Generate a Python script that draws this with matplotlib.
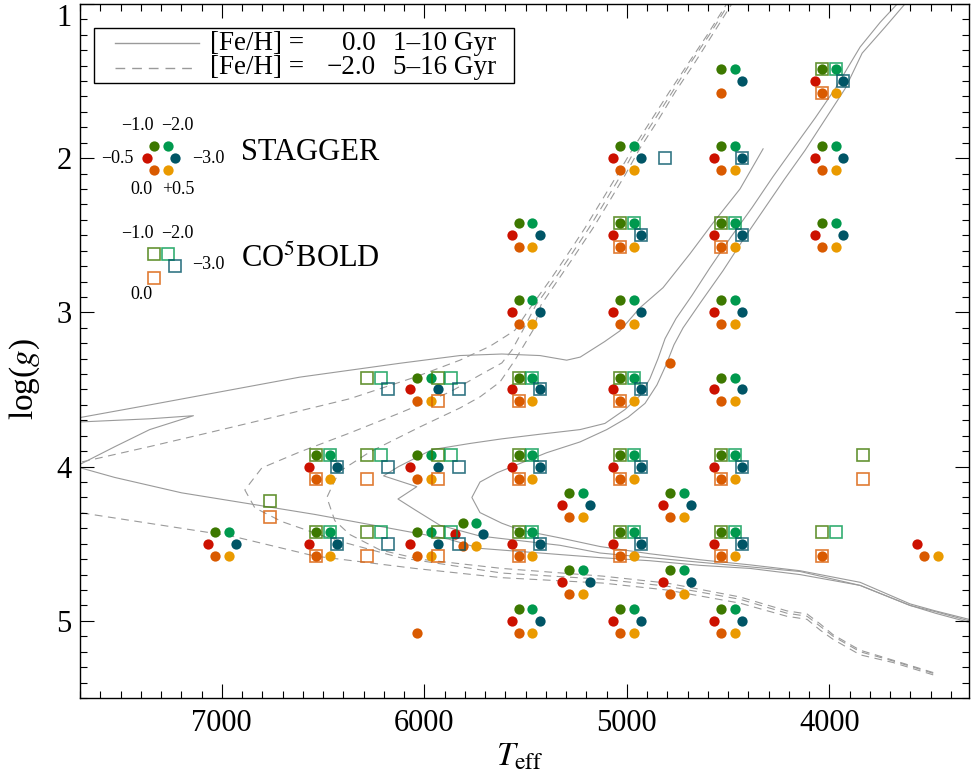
import matplotlib
matplotlib.use("Agg")
import matplotlib.pyplot as plt
from matplotlib.ticker import MultipleLocator
from matplotlib.transforms import ScaledTranslation
from matplotlib.patches import Rectangle

plt.rcParams['font.family'] = ['Liberation Serif', 'DejaVu Serif']
plt.rcParams['mathtext.fontset'] = 'stix'

""" Data """

# metallicities and their colours
feh_values = [0.5, 0.0, -0.5, -1.0, -2.0, -3.0]
feh_colors = ['#EA9A00', '#D95A00', '#CC1100', '#3D7800', '#00994E', '#005566']

ALL6 = [0.5, 0.0, -0.5, -1.0, -2.0, -3.0]
ALL4 = [0.0, -1.0, -2.0, -3.0]

# STAGGER grid points
stagger_teff = [4000, 4500,
                5000, 4500, 4000,
                5500, 5000, 4500, 4000,
                5500, 5000, 4500,
                6000, 5500, 5000, 4500,
                4750,
                6500, 6000, 5500, 5000, 4500,
                5250, 4750,
                7000, 6500, 6000, 5777, 5500, 5000, 4500, 4000, 3500,
                5250, 4750,
                6000, 5500, 5000, 4500]
stagger_logg = [1.5, 1.5,
                2.0, 2.0, 2.0,
                2.5, 2.5, 2.5, 2.5,
                3.0, 3.0, 3.0,
                3.5, 3.5, 3.5, 3.5,
                3.25,
                4.0, 4.0, 4.0, 4.0, 4.0,
                4.25, 4.25,
                4.5, 4.5, 4.5, 4.44, 4.5, 4.5, 4.5, 4.5, 4.5,
                4.75, 4.75,
                5.0, 5.0, 5.0, 5.0]
stagger_feh = [ALL6, [0.0, -1.0, -2.0, -3.0],
               ALL6, ALL6, ALL6,
               ALL6, ALL6, ALL6, ALL6,
               ALL6, ALL6, ALL6,
               ALL6, ALL6, ALL6, ALL6,
               [0.0],
               ALL6, ALL6, ALL6, ALL6, ALL6,
               ALL6, ALL6,
               ALL6, ALL6, ALL6, ALL6, ALL6, ALL6, ALL6, [0.0], [0.5, 0.0, -0.5],
               ALL6, ALL6,
               [0.0], ALL6, ALL6, ALL6]

# CO5BOLD grid points
cobold_teff = [4000, 4880, 4500, 5000, 4500,
               6250, 5900, 5500, 5000,
               6500, 6250, 5900, 5500, 5000, 4500, 3800,
               6730, 6730,
               6500, 6250, 5900, 5500, 5000, 4500, 4000]
cobold_logg = [1.5, 2.0, 2.0, 2.5, 2.5,
               3.5, 3.5, 3.5, 3.5,
               4.0, 4.0, 4.0, 4.0, 4.0, 4.0, 4.0,
               4.3, 4.25,
               4.5, 4.5, 4.5, 4.5, 4.5, 4.5, 4.5]
cobold_feh = [ALL4, [-3.0], [-3.0], ALL4, ALL4,
              [-1.0, -2.0, -3.0], ALL4, ALL4, ALL4,
              ALL4, ALL4, ALL4, ALL4, ALL4, ALL4, [0.0, -1.0],
              [-1.0], [0.0],
              ALL4, ALL4, ALL4, ALL4, ALL4, ALL4, [0.0, -1.0, -2.0]]

# isochrones, [Fe/H] = 0.0 (1, ~4, 10 Gyr)
iso_sol1_teff = [3280, 3477, 3601, 3848, 4144, 4391, 4638, 4886, 5132, 5330, 5528, 5725,
                 5880, 6209, 6540, 6868, 7198, 7529, 7692, 7790, 7692, 7527, 7356, 7140,
                 7356, 7692, 7800, 7692, 7356, 7109, 6615, 6120, 5824, 5617, 5429, 5297,
                 5230, 5182, 5110, 5034, 4935, 4821, 4688, 4574, 4441, 4327]
iso_sol1_logg = [5.02, 4.95, 4.90, 4.77, 4.70, 4.66, 4.64, 4.61, 4.59, 4.57, 4.55, 4.53,
                 4.47, 4.39, 4.31, 4.24, 4.17, 4.07, 4.01, 4.00, 3.98, 3.87, 3.76, 3.67,
                 3.69, 3.71, 3.70, 3.68, 3.60, 3.54, 3.42, 3.33, 3.28, 3.27, 3.28, 3.31,
                 3.29, 3.25, 3.19, 3.12, 2.97, 2.84, 2.62, 2.42, 2.20, 1.94]

iso_sol2_teff = [3280, 3477, 3601, 3848, 4144, 4391, 4638, 4886, 5132, 5330, 5528, 5725,
                 5923, 6046, 6130, 6037, 6201, 6127, 5962, 5775, 5617, 5429, 5231, 5108,
                 5009, 4935, 4886, 4846, 4811, 4757, 4678, 4589, 4485, 4381, 4278, 4169,
                 4070, 3971, 3848, 3749, 3650, 3601]
iso_sol2_logg = [5.01, 4.94, 4.90, 4.77, 4.68, 4.65, 4.62, 4.59, 4.56, 4.51, 4.48, 4.45,
                 4.38, 4.28, 4.21, 4.13, 4.06, 4.00, 3.89, 3.85, 3.82, 3.79, 3.76, 3.72,
                 3.63, 3.54, 3.43, 3.30, 3.17, 3.04, 2.89, 2.71, 2.51, 2.32, 2.12, 1.92,
                 1.74, 1.55, 1.28, 1.12, 0.98, 0.91]

iso_sol3_teff = [3280, 3477, 3601, 3848, 4144, 4391, 4638, 4886, 5132, 5330, 5528, 5617,
                 5725, 5765, 5725, 5641, 5396, 5231, 5099, 4994, 4910, 4851, 4806, 4767,
                 4722, 4638, 4525, 4421, 4322, 4223, 4120, 4021, 3922, 3838, 3724, 3626,
                 3591]
iso_sol3_logg = [5.00, 4.935, 4.89, 4.75, 4.675, 4.637, 4.604, 4.565, 4.518, 4.462, 4.41, 4.367,
                 4.298, 4.20, 4.10, 4.04, 3.91, 3.84, 3.76, 3.68, 3.59, 3.47, 3.34, 3.21,
                 3.10, 2.94, 2.73, 2.52, 2.33, 2.14, 1.95, 1.75, 1.55, 1.32, 1.15, 1.00,
                 0.94]

# isochrones, [Fe/H] = -2.0 (5 ... 16 Gyr)
iso_mp1_teff = [3487, 3685, 3848, 3981, 4045, 4110, 4210, 4441, 4801, 5118, 5617, 6046,
                6540, 6951, 7692, 7900, 7692, 7356, 7064, 6713, 6368, 6046, 5824, 5676,
                5592, 5552, 5468, 5379, 5295, 5207, 5123, 5048, 4969, 4880, 4791, 4693,
                4604, 4505, 4475]
iso_mp1_logg = [5.35, 5.27, 5.22, 5.12, 5.06, 4.99, 4.97, 4.885, 4.80, 4.755, 4.72, 4.66,
                4.58, 4.45, 4.30, 4.15, 3.97, 3.87, 3.78, 3.67, 3.56, 3.42, 3.31, 3.22,
                3.15, 3.115, 2.953, 2.791, 2.629, 2.454, 2.273, 2.111, 1.936, 1.755, 1.573, 1.379,
                1.204, 0.997, 0.925]

iso_mp2_teff = [3487, 3685, 3848, 3981, 4045, 4110, 4210, 4441, 4801, 5118, 5617, 6120,
                6442, 6704, 6837, 6886, 6802, 6615, 6368, 6120, 5873, 5725, 5617, 5567,
                5513, 5449, 5360, 5276, 5187, 5103, 5029, 4954, 4865, 4776, 4683, 4594,
                4495, 4466]
iso_mp2_logg = [5.34, 5.26, 5.20, 5.10, 5.035, 4.97, 4.95, 4.86, 4.775, 4.73, 4.69, 4.59,
                4.475, 4.356, 4.267, 4.151, 4.008, 3.905, 3.782, 3.652, 3.516, 3.406, 3.328, 3.244,
                3.115, 2.953, 2.791, 2.629, 2.454, 2.273, 2.111, 1.936, 1.755, 1.573, 1.379, 1.204,
                0.997, 0.925]

iso_mp3_teff = [3487, 3685, 3848, 3981, 4045, 4110, 4210, 4441, 4801, 5118, 5617, 6022,
                6219, 6368, 6442, 6481, 6442, 6417, 6269, 6022, 5824, 5725, 5626, 5552,
                5463, 5424, 5340, 5256, 5167, 5083, 5009, 4935, 4846, 4762, 4663, 4579,
                4480, 4451]
iso_mp3_logg = [5.335, 5.255, 5.19, 5.09, 5.02, 4.955, 4.935, 4.845, 4.755, 4.71, 4.66, 4.60,
                4.54, 4.44, 4.35, 4.20, 4.09, 4.03, 3.905, 3.743, 3.62, 3.548, 3.451, 3.309,
                3.115, 2.953, 2.791, 2.629, 2.454, 2.273, 2.111, 1.936, 1.755, 1.573, 1.379, 1.204,
                0.997, 0.925]

""" Plot """

iso_color = '#9a9a9a'
# marker position around a grid point for each [Fe/H], in points
hex_offset = {0.5: (5.0, -8.6), 0.0: (-5.0, -8.6), -0.5: (-10.1, 0.0),
              -1.0: (-5.0, 8.6), -2.0: (5.0, 8.6), -3.0: (10.1, 0.0)}

fig = plt.figure(figsize=(9.71, 7.82), dpi=100)
ax = fig.add_axes([0.0824, 0.1074, 0.9156, 0.8877])


def shifted(dx, dy):
    return ax.transData + ScaledTranslation(dx / 72, dy / 72, fig.dpi_scale_trans)


def draw_dots(teff, logg, fehs, **kw):
    for m, c in zip(feh_values, feh_colors):
        xs = [t for t, f in zip(teff, fehs) if m in f]
        ys = [g for g, f in zip(logg, fehs) if m in f]
        if xs:
            ax.plot(xs, ys, 'o', ms=7.4, mew=0, color=c, zorder=3,
                    transform=shifted(*hex_offset[m]), **kw)


def draw_squares(teff, logg, fehs, **kw):
    for m, c in zip(feh_values, feh_colors):
        xs = [t for t, f in zip(teff, fehs) if m in f]
        ys = [g for g, f in zip(logg, fehs) if m in f]
        if xs:
            ax.plot(xs, ys, 's', ms=8.9, mew=1.2, mfc='none', mec=c, alpha=0.8,
                    zorder=4, transform=shifted(*hex_offset[m]), **kw)


# isochrones
for t, g in [(iso_sol1_teff, iso_sol1_logg), (iso_sol2_teff, iso_sol2_logg),
             (iso_sol3_teff, iso_sol3_logg)]:
    ax.plot(t, g, color=iso_color, lw=0.8, zorder=1)
for t, g in [(iso_mp1_teff, iso_mp1_logg), (iso_mp2_teff, iso_mp2_logg),
             (iso_mp3_teff, iso_mp3_logg)]:
    ax.plot(t, g, color=iso_color, lw=0.8, ls=(0, (7, 5)), zorder=1)

# model grids
draw_dots(stagger_teff, stagger_logg, stagger_feh)
draw_squares(cobold_teff, cobold_logg, cobold_feh)

# keys for the two grids
key_teff = 7300
draw_dots([key_teff], [2.0], [ALL6])
draw_squares([key_teff], [2.7], [ALL4])
key_fs = 13
for txt, (dx, dy), ha in [('−1.0', (-16.9, 23.8), 'center'), ('−2.0', (11.9, 23.8), 'center'),
                          ('−0.5', (-19.9, 0), 'right'), ('−3.0', (22.1, 0), 'left'),
                          ('0.0', (-13.9, -22.3), 'center'), ('+0.5', (12.1, -22.3), 'center')]:
    ax.text(key_teff, 2.0, txt, fontsize=key_fs, ha=ha, va='center', transform=shifted(dx, dy))
for txt, (dx, dy), ha in [('−1.0', (-16.9, 23.3), 'center'), ('−2.0', (11.9, 23.3), 'center'),
                          ('−3.0', (22.1, 1.2), 'left'), ('0.0', (-13.9, -20.7), 'center')]:
    ax.text(key_teff, 2.7, txt, fontsize=key_fs, ha=ha, va='center', transform=shifted(dx, dy))
ax.text(6903, 2.014, 'STAGGER', fontsize=22, ha='left', va='baseline')
ax.text(6903, 2.705, 'CO$^5$BOLD', fontsize=22, ha='left', va='baseline')

# legend box for the isochrones
ax.add_patch(Rectangle((0.0161, 0.8855), 0.4724, 0.0801, transform=ax.transAxes,
                       fill=False, lw=1.0, ec='black', zorder=5))
ax.plot([0.0397, 0.1335], [0.9431, 0.9431], transform=ax.transAxes, color=iso_color, lw=1.0)
ax.plot([0.0397, 0.1260], [0.9080, 0.9080], transform=ax.transAxes, color=iso_color, lw=1.0,
        ls=(0, (7, 5)))
for y, val, age in [(0.9431, '0.0', '1–10 Gyr'), (0.9080, '−2.0', '5–16 Gyr')]:
    ax.text(0.1466, y, '[Fe/H] =', transform=ax.transAxes, fontsize=19.5, va='center')
    ax.text(0.3322, y, val, transform=ax.transAxes, fontsize=19.5, va='center', ha='right')
    ax.text(0.3517, y, age, transform=ax.transAxes, fontsize=19.5, va='center')

# axes
ax.set_xlim(7700, 3310)
ax.set_ylim(5.5, 1.0)
ax.set_xticks([7000, 6000, 5000, 4000])
ax.set_yticks([1, 2, 3, 4, 5])
ax.xaxis.set_minor_locator(MultipleLocator(100))
ax.yaxis.set_minor_locator(MultipleLocator(0.1))
ax.tick_params(which='both', direction='in', top=True, right=True, width=0.8, labelsize=22)
ax.tick_params(which='major', length=10)
ax.tick_params(which='minor', length=5)
ax.tick_params(axis='x', pad=8)
ax.tick_params(axis='y', pad=6)
ax.get_yticklabels()[0].set_verticalalignment('top')
for s in ax.spines.values():
    s.set_linewidth(1.0)

ax.set_xlabel('$T_{\\rm eff}$', fontsize=24, va='center')
ax.set_ylabel('log($g$)', fontsize=24, va='center')
ax.xaxis.set_label_coords(0.495, -0.085)
ax.yaxis.set_label_coords(-0.062, 0.46)

fig.savefig('out.png', dpi=100)
